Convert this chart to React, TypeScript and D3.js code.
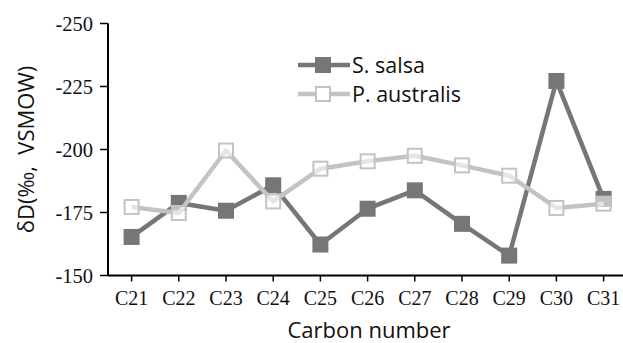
import React from 'react'
import * as d3 from 'd3'

const categories = ['C21', 'C22', 'C23', 'C24', 'C25', 'C26', 'C27', 'C28', 'C29', 'C30', 'C31']
const salsa = [-165.3, -178.8, -175.7, -185.8, -162.3, -176.5, -183.8, -170.5, -157.9, -227.2, -180.4]
const australis = [-177.2, -174.8, -199.6, -179.4, -192.4, -195.3, -197.5, -193.7, -189.6, -176.8, -178.5]
const yTicks = [-250, -225, -200, -175, -150]

const DARK = '#767676'
const LIGHT = '#c3c3c3'
const SERIF = '"Liberation Serif", "Times New Roman", Times, serif'
const SANS = '"Open Sans", "Noto Sans", sans-serif'

const App: React.FC = () => {
  const width = 623
  const height = 343
  const left = 108
  const top = 23.5
  const bottom = 275.5

  const x = d3.scalePoint<string>().domain(categories).range([left + 23.6, left + 23.6 + 47.2 * 10])
  const y = d3.scaleLinear().domain([-250, -150]).range([top, bottom])

  const line = d3
    .line<number>()
    .x((_, i) => x(categories[i]) as number)
    .y((d) => y(d))

  const m = 16

  return (
    <svg
      width={width}
      height={height}
      style={{ position: 'absolute', left: 0, top: 0, background: '#fff' }}
    >
      {/* y axis */}
      <line x1={left} x2={left} y1={top} y2={bottom} stroke="#000" strokeWidth={2} />
      {yTicks.map((t) => (
        <g key={t}>
          <line x1={left - 8} x2={left} y1={y(t)} y2={y(t)} stroke="#000" strokeWidth={1.5} />
          <text
            x={93}
            y={y(t)}
            dy="0.35em"
            textAnchor="end"
            style={{ fontFamily: SERIF, fontSize: 20.5 }}
            fill="#111"
          >
            {t}
          </text>
        </g>
      ))}
      {/* x axis */}
      <line x1={left} x2={width} y1={bottom} y2={bottom} stroke="#000" strokeWidth={2} />
      {categories.map((c) => (
        <g key={c}>
          <line x1={x(c)} x2={x(c)} y1={bottom} y2={bottom + 6} stroke="#000" strokeWidth={1.5} />
          <text
            x={x(c)}
            y={305}
            textAnchor="middle"
            style={{ fontFamily: SERIF, fontSize: 20 }}
            fill="#111"
          >
            {c}
          </text>
        </g>
      ))}
      <text x={369} y={338} textAnchor="middle" style={{ fontFamily: SANS, fontSize: 22 }} fill="#111">
        Carbon number
      </text>
      <text
        transform={`translate(34,${(top + bottom) / 2}) rotate(-90)`}
        textAnchor="middle"
        style={{ fontFamily: SANS, fontSize: 22, whiteSpace: 'pre' }}
        fill="#111"
      >
        {'δD(‰,  VSMOW)'}
      </text>

      {/* series */}
      <path d={line(salsa) ?? ''} fill="none" stroke={DARK} strokeWidth={4.5} strokeLinejoin="round" />
      {salsa.map((v, i) => (
        <rect key={i} x={(x(categories[i]) as number) - m / 2} y={y(v) - m / 2} width={m} height={m} fill={DARK} />
      ))}
      <path d={line(australis) ?? ''} fill="none" stroke={LIGHT} strokeWidth={4.5} strokeLinejoin="round" />
      {australis.map((v, i) => (
        <rect
          key={i}
          x={(x(categories[i]) as number) - m / 2 + 1}
          y={y(v) - m / 2 + 1}
          width={m - 2}
          height={m - 2}
          fill="#fff"
          fillOpacity={0.55}
          stroke={LIGHT}
          strokeWidth={2}
        />
      ))}

      {/* legend */}
      <g style={{ fontFamily: SANS, fontSize: 21.5 }} fill="#111">
        <line x1={298} x2={350} y1={65} y2={65} stroke={DARK} strokeWidth={4.5} />
        <rect x={323 - m / 2} y={65 - m / 2} width={m} height={m} fill={DARK} />
        <text x={352} y={65} dy="0.36em">S. salsa</text>
        <line x1={298} x2={350} y1={94} y2={94} stroke={LIGHT} strokeWidth={4.5} />
        <rect x={323 - m / 2 + 1} y={94 - m / 2 + 1} width={m - 2} height={m - 2} fill="#fff" stroke={LIGHT} strokeWidth={2} />
        <text x={352} y={94} dy="0.36em">P. australis</text>
      </g>
    </svg>
  )
}

export default App
